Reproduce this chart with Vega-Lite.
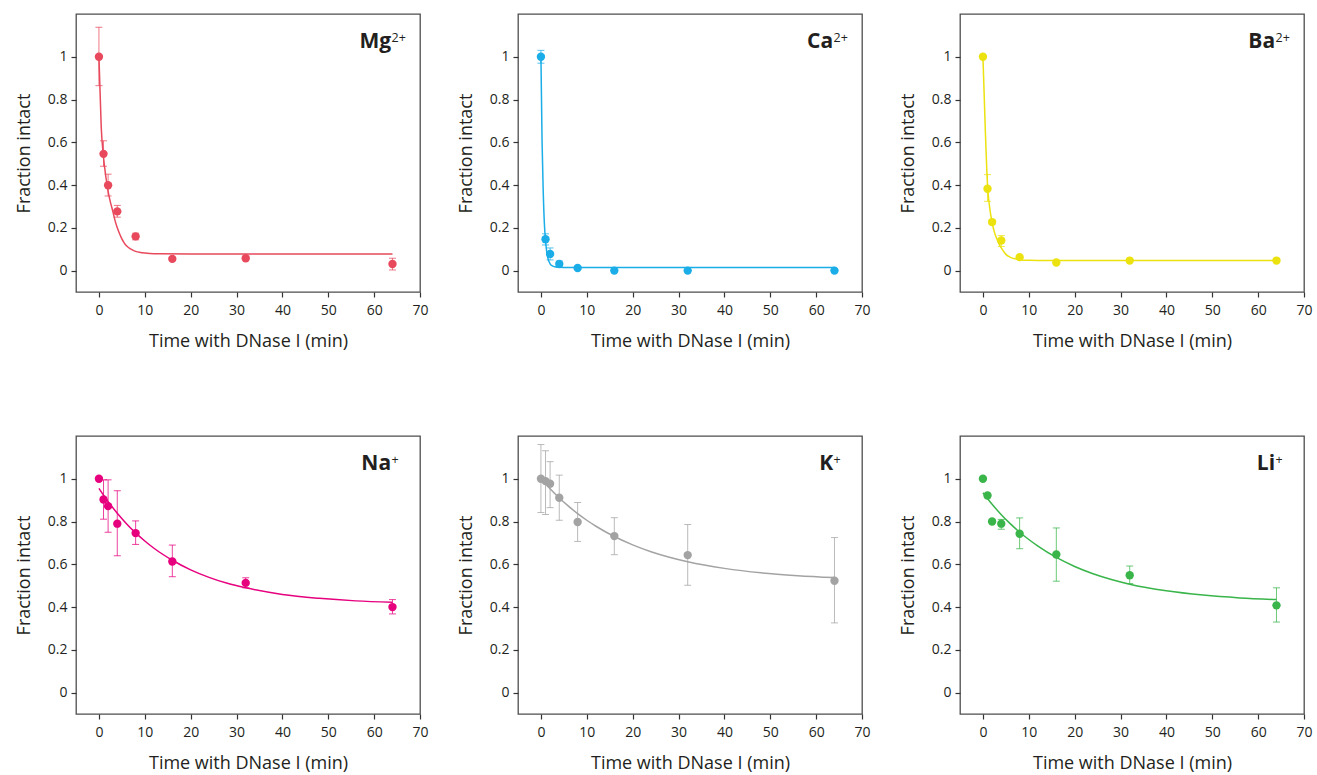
{
  "$schema": "https://vega.github.io/schema/vega-lite/v6.json",
  "padding": {"left": 14, "top": 13, "right": 5, "bottom": 2},
  "background": "white",
  "config": {
    "view": {"stroke": "#4d4d4d", "strokeWidth": 1.3},
    "header": {"labels": false, "labelFontSize": 0, "labelPadding": 0, "title": null, "titlePadding": 0},
    "headerFacet": {"labels": false, "labelFontSize": 0, "labelPadding": 0, "title": null, "titlePadding": 0},
    "axis": {"domain": false, "grid": false, "tickColor": "#333333", "tickSize": 5, "tickWidth": 1.2,
      "labelColor": "#231f20", "titleColor": "#231f20", "labelFont": "Open Sans", "titleFont": "Open Sans",
      "titleFontWeight": "normal", "labelFontSize": 14, "titleFontSize": 18},
    "text": {"font": "Open Sans"}
  },
  "data": {"values": [
    {"ion": "Mg", "kind": "label", "label": "Mg", "sup": "2+"},
    {"ion": "Ca", "kind": "label", "label": "Ca", "sup": "2+"},
    {"ion": "Ba", "kind": "label", "label": "Ba", "sup": "2+"},
    {"ion": "Na", "kind": "label", "label": "Na", "sup": "+"},
    {"ion": "K", "kind": "label", "label": "K", "sup": "+"},
    {"ion": "Li", "kind": "label", "label": "Li", "sup": "+"},

    {"ion": "Mg", "kind": "pt", "t": 0, "y": 1.0, "lo": 0.865, "hi": 1.138},
    {"ion": "Mg", "kind": "pt", "t": 1, "y": 0.546, "lo": 0.488, "hi": 0.607},
    {"ion": "Mg", "kind": "pt", "t": 2, "y": 0.399, "lo": 0.349, "hi": 0.451},
    {"ion": "Mg", "kind": "pt", "t": 4, "y": 0.277, "lo": 0.25, "hi": 0.305},
    {"ion": "Mg", "kind": "pt", "t": 8, "y": 0.16, "lo": 0.144, "hi": 0.175},
    {"ion": "Mg", "kind": "pt", "t": 16, "y": 0.055, "lo": 0.047, "hi": 0.063},
    {"ion": "Mg", "kind": "pt", "t": 32, "y": 0.058, "lo": 0.05, "hi": 0.066},
    {"ion": "Mg", "kind": "pt", "t": 64, "y": 0.031, "lo": 0.003, "hi": 0.058},

    {"ion": "Ca", "kind": "pt", "t": 0, "y": 1.0, "lo": 0.97, "hi": 1.03},
    {"ion": "Ca", "kind": "pt", "t": 1, "y": 0.147, "lo": 0.12, "hi": 0.172},
    {"ion": "Ca", "kind": "pt", "t": 2, "y": 0.078, "lo": 0.05, "hi": 0.106},
    {"ion": "Ca", "kind": "pt", "t": 4, "y": 0.031, "lo": 0.016, "hi": 0.045},
    {"ion": "Ca", "kind": "pt", "t": 8, "y": 0.0125, "lo": 0.006, "hi": 0.019},
    {"ion": "Ca", "kind": "pt", "t": 16, "y": 0.0, "lo": 0.0, "hi": 0.0},
    {"ion": "Ca", "kind": "pt", "t": 32, "y": 0.0, "lo": 0.0, "hi": 0.0},
    {"ion": "Ca", "kind": "pt", "t": 64, "y": 0.0, "lo": 0.0, "hi": 0.0},

    {"ion": "Ba", "kind": "pt", "t": 0, "y": 1.0, "lo": 1.0, "hi": 1.0},
    {"ion": "Ba", "kind": "pt", "t": 1, "y": 0.383, "lo": 0.324, "hi": 0.449},
    {"ion": "Ba", "kind": "pt", "t": 2, "y": 0.227, "lo": 0.217, "hi": 0.237},
    {"ion": "Ba", "kind": "pt", "t": 4, "y": 0.141, "lo": 0.113, "hi": 0.164},
    {"ion": "Ba", "kind": "pt", "t": 8, "y": 0.063, "lo": 0.058, "hi": 0.068},
    {"ion": "Ba", "kind": "pt", "t": 16, "y": 0.038, "lo": 0.035, "hi": 0.041},
    {"ion": "Ba", "kind": "pt", "t": 32, "y": 0.047, "lo": 0.044, "hi": 0.05},
    {"ion": "Ba", "kind": "pt", "t": 64, "y": 0.047, "lo": 0.044, "hi": 0.05},

    {"ion": "Na", "kind": "pt", "t": 0, "y": 1.0, "lo": 1.0, "hi": 1.0},
    {"ion": "Na", "kind": "pt", "t": 1, "y": 0.903, "lo": 0.811, "hi": 0.995},
    {"ion": "Na", "kind": "pt", "t": 2, "y": 0.872, "lo": 0.75, "hi": 0.995},
    {"ion": "Na", "kind": "pt", "t": 4, "y": 0.79, "lo": 0.64, "hi": 0.944},
    {"ion": "Na", "kind": "pt", "t": 8, "y": 0.746, "lo": 0.693, "hi": 0.803},
    {"ion": "Na", "kind": "pt", "t": 16, "y": 0.613, "lo": 0.542, "hi": 0.69},
    {"ion": "Na", "kind": "pt", "t": 32, "y": 0.513, "lo": 0.49, "hi": 0.537},
    {"ion": "Na", "kind": "pt", "t": 64, "y": 0.4, "lo": 0.368, "hi": 0.435},

    {"ion": "K", "kind": "pt", "t": 0, "y": 1.0, "lo": 0.842, "hi": 1.16},
    {"ion": "K", "kind": "pt", "t": 1, "y": 0.989, "lo": 0.833, "hi": 1.131},
    {"ion": "K", "kind": "pt", "t": 2, "y": 0.977, "lo": 0.865, "hi": 1.08},
    {"ion": "K", "kind": "pt", "t": 4, "y": 0.911, "lo": 0.806, "hi": 1.017},
    {"ion": "K", "kind": "pt", "t": 8, "y": 0.798, "lo": 0.707, "hi": 0.889},
    {"ion": "K", "kind": "pt", "t": 16, "y": 0.732, "lo": 0.645, "hi": 0.818},
    {"ion": "K", "kind": "pt", "t": 32, "y": 0.643, "lo": 0.502, "hi": 0.786},
    {"ion": "K", "kind": "pt", "t": 64, "y": 0.523, "lo": 0.326, "hi": 0.725},

    {"ion": "Li", "kind": "pt", "t": 0, "y": 1.0, "lo": 1.0, "hi": 1.0},
    {"ion": "Li", "kind": "pt", "t": 1, "y": 0.922, "lo": 0.916, "hi": 0.928},
    {"ion": "Li", "kind": "pt", "t": 2, "y": 0.8, "lo": 0.795, "hi": 0.805},
    {"ion": "Li", "kind": "pt", "t": 4, "y": 0.79, "lo": 0.764, "hi": 0.81},
    {"ion": "Li", "kind": "pt", "t": 8, "y": 0.743, "lo": 0.673, "hi": 0.817},
    {"ion": "Li", "kind": "pt", "t": 16, "y": 0.646, "lo": 0.521, "hi": 0.77},
    {"ion": "Li", "kind": "pt", "t": 32, "y": 0.549, "lo": 0.51, "hi": 0.592},
    {"ion": "Li", "kind": "pt", "t": 64, "y": 0.408, "lo": 0.33, "hi": 0.49},

    {"ion": "Mg", "kind": "fit", "t": 0, "y": 1.0},
    {"ion": "Mg", "kind": "fit", "t": 0.5, "y": 0.67},
    {"ion": "Mg", "kind": "fit", "t": 1, "y": 0.53},
    {"ion": "Mg", "kind": "fit", "t": 1.5, "y": 0.44},
    {"ion": "Mg", "kind": "fit", "t": 2, "y": 0.37},
    {"ion": "Mg", "kind": "fit", "t": 2.5, "y": 0.32},
    {"ion": "Mg", "kind": "fit", "t": 3, "y": 0.28},
    {"ion": "Mg", "kind": "fit", "t": 3.5, "y": 0.235},
    {"ion": "Mg", "kind": "fit", "t": 4, "y": 0.2},
    {"ion": "Mg", "kind": "fit", "t": 4.5, "y": 0.172},
    {"ion": "Mg", "kind": "fit", "t": 5, "y": 0.148},
    {"ion": "Mg", "kind": "fit", "t": 5.5, "y": 0.13},
    {"ion": "Mg", "kind": "fit", "t": 6, "y": 0.116},
    {"ion": "Mg", "kind": "fit", "t": 7, "y": 0.1},
    {"ion": "Mg", "kind": "fit", "t": 8, "y": 0.09},
    {"ion": "Mg", "kind": "fit", "t": 9, "y": 0.085},
    {"ion": "Mg", "kind": "fit", "t": 10, "y": 0.082},
    {"ion": "Mg", "kind": "fit", "t": 12, "y": 0.079},
    {"ion": "Mg", "kind": "fit", "t": 20, "y": 0.078},
    {"ion": "Mg", "kind": "fit", "t": 64, "y": 0.078},

    {"ion": "Ca", "kind": "fit", "t": 0, "y": 1.0},
    {"ion": "Ca", "kind": "fit", "t": 0.25, "y": 0.6},
    {"ion": "Ca", "kind": "fit", "t": 0.5, "y": 0.37},
    {"ion": "Ca", "kind": "fit", "t": 0.75, "y": 0.22},
    {"ion": "Ca", "kind": "fit", "t": 1, "y": 0.14},
    {"ion": "Ca", "kind": "fit", "t": 1.25, "y": 0.09},
    {"ion": "Ca", "kind": "fit", "t": 1.5, "y": 0.06},
    {"ion": "Ca", "kind": "fit", "t": 2, "y": 0.032},
    {"ion": "Ca", "kind": "fit", "t": 2.5, "y": 0.022},
    {"ion": "Ca", "kind": "fit", "t": 3, "y": 0.018},
    {"ion": "Ca", "kind": "fit", "t": 4, "y": 0.016},
    {"ion": "Ca", "kind": "fit", "t": 6, "y": 0.015},
    {"ion": "Ca", "kind": "fit", "t": 64, "y": 0.015},

    {"ion": "Ba", "kind": "fit", "t": 0, "y": 1.0},
    {"ion": "Ba", "kind": "fit", "t": 0.5, "y": 0.67},
    {"ion": "Ba", "kind": "fit", "t": 1, "y": 0.4},
    {"ion": "Ba", "kind": "fit", "t": 1.5, "y": 0.29},
    {"ion": "Ba", "kind": "fit", "t": 2, "y": 0.225},
    {"ion": "Ba", "kind": "fit", "t": 2.5, "y": 0.18},
    {"ion": "Ba", "kind": "fit", "t": 3, "y": 0.15},
    {"ion": "Ba", "kind": "fit", "t": 3.5, "y": 0.125},
    {"ion": "Ba", "kind": "fit", "t": 4, "y": 0.106},
    {"ion": "Ba", "kind": "fit", "t": 5, "y": 0.076},
    {"ion": "Ba", "kind": "fit", "t": 6, "y": 0.062},
    {"ion": "Ba", "kind": "fit", "t": 7, "y": 0.055},
    {"ion": "Ba", "kind": "fit", "t": 8, "y": 0.051},
    {"ion": "Ba", "kind": "fit", "t": 10, "y": 0.048},
    {"ion": "Ba", "kind": "fit", "t": 14, "y": 0.047},
    {"ion": "Ba", "kind": "fit", "t": 64, "y": 0.047},

    {"ion": "Na", "kind": "fit", "t": 0, "y": 0.955},
    {"ion": "Na", "kind": "fit", "t": 2, "y": 0.893},
    {"ion": "Na", "kind": "fit", "t": 4, "y": 0.839},
    {"ion": "Na", "kind": "fit", "t": 6, "y": 0.79},
    {"ion": "Na", "kind": "fit", "t": 8, "y": 0.747},
    {"ion": "Na", "kind": "fit", "t": 10, "y": 0.709},
    {"ion": "Na", "kind": "fit", "t": 12, "y": 0.675},
    {"ion": "Na", "kind": "fit", "t": 16, "y": 0.619},
    {"ion": "Na", "kind": "fit", "t": 20, "y": 0.574},
    {"ion": "Na", "kind": "fit", "t": 24, "y": 0.539},
    {"ion": "Na", "kind": "fit", "t": 28, "y": 0.511},
    {"ion": "Na", "kind": "fit", "t": 32, "y": 0.49},
    {"ion": "Na", "kind": "fit", "t": 40, "y": 0.459},
    {"ion": "Na", "kind": "fit", "t": 48, "y": 0.441},
    {"ion": "Na", "kind": "fit", "t": 56, "y": 0.429},
    {"ion": "Na", "kind": "fit", "t": 64, "y": 0.422},

    {"ion": "K", "kind": "fit", "t": 0, "y": 1.0},
    {"ion": "K", "kind": "fit", "t": 2, "y": 0.953},
    {"ion": "K", "kind": "fit", "t": 4, "y": 0.91},
    {"ion": "K", "kind": "fit", "t": 6, "y": 0.872},
    {"ion": "K", "kind": "fit", "t": 8, "y": 0.837},
    {"ion": "K", "kind": "fit", "t": 10, "y": 0.806},
    {"ion": "K", "kind": "fit", "t": 12, "y": 0.778},
    {"ion": "K", "kind": "fit", "t": 16, "y": 0.73},
    {"ion": "K", "kind": "fit", "t": 20, "y": 0.691},
    {"ion": "K", "kind": "fit", "t": 24, "y": 0.659},
    {"ion": "K", "kind": "fit", "t": 28, "y": 0.633},
    {"ion": "K", "kind": "fit", "t": 32, "y": 0.612},
    {"ion": "K", "kind": "fit", "t": 40, "y": 0.581},
    {"ion": "K", "kind": "fit", "t": 48, "y": 0.56},
    {"ion": "K", "kind": "fit", "t": 56, "y": 0.547},
    {"ion": "K", "kind": "fit", "t": 64, "y": 0.538},

    {"ion": "Li", "kind": "fit", "t": 0, "y": 0.935},
    {"ion": "Li", "kind": "fit", "t": 2, "y": 0.881},
    {"ion": "Li", "kind": "fit", "t": 4, "y": 0.832},
    {"ion": "Li", "kind": "fit", "t": 6, "y": 0.789},
    {"ion": "Li", "kind": "fit", "t": 8, "y": 0.75},
    {"ion": "Li", "kind": "fit", "t": 10, "y": 0.716},
    {"ion": "Li", "kind": "fit", "t": 12, "y": 0.685},
    {"ion": "Li", "kind": "fit", "t": 16, "y": 0.632},
    {"ion": "Li", "kind": "fit", "t": 20, "y": 0.59},
    {"ion": "Li", "kind": "fit", "t": 24, "y": 0.556},
    {"ion": "Li", "kind": "fit", "t": 28, "y": 0.529},
    {"ion": "Li", "kind": "fit", "t": 32, "y": 0.507},
    {"ion": "Li", "kind": "fit", "t": 40, "y": 0.476},
    {"ion": "Li", "kind": "fit", "t": 48, "y": 0.456},
    {"ion": "Li", "kind": "fit", "t": 56, "y": 0.443},
    {"ion": "Li", "kind": "fit", "t": 64, "y": 0.435}
  ]},
  "facet": {"field": "ion", "type": "nominal", "sort": ["Mg", "Ca", "Ba", "Na", "K", "Li"], "header": {"labels": false, "labelExpr": "''", "labelFontSize": 0, "labelPadding": 0, "title": null, "titlePadding": 0}, "title": null},
  "columns": 3,
  "spacing": {"row": 144, "column": 98},
  "bounds": "flush",
  "resolve": {"axis": {"x": "independent", "y": "independent"}},
  "spec": {
    "width": 344,
    "height": 278,
    "encoding": {
      "x": {"type": "quantitative", "scale": {"domain": [-5, 70], "nice": false, "zero": false},
        "axis": {"values": [0, 10, 20, 30, 40, 50, 60, 70], "title": "Time with DNase I (min)", "labelPadding": 6, "titlePadding": 15, "labelFlush": false}},
      "y": {"type": "quantitative", "scale": {"domain": [-0.1, 1.2], "nice": false, "zero": false},
        "axis": {"values": [0, 0.2, 0.4, 0.6, 0.8, 1], "format": "~g", "title": "Fraction intact", "labelPadding": 4, "titlePadding": 14}},
      "color": {"field": "ion", "type": "nominal", "legend": null,
        "scale": {"domain": ["Mg", "Ca", "Ba", "Na", "K", "Li"], "range": ["#e8495c", "#1aade8", "#ebe210", "#e6007e", "#a3a3a3", "#39b54a"]}}
    },
    "layer": [
      {
        "transform": [{"filter": "datum.kind == 'fit'"}],
        "mark": {"type": "line", "strokeWidth": 1.5, "interpolate": "monotone"},
        "encoding": {"x": {"field": "t"}, "y": {"field": "y"}, "order": {"field": "t", "type": "quantitative"}}
      },
      {
        "transform": [{"filter": "datum.kind == 'pt'"}],
        "mark": {"type": "rule", "strokeWidth": 1, "opacity": 0.75},
        "encoding": {"x": {"field": "t"}, "y": {"field": "lo"}, "y2": {"field": "hi"}}
      },
      {
        "transform": [{"filter": "datum.kind == 'pt'"}],
        "mark": {"type": "tick", "thickness": 1, "size": 7, "orient": "horizontal", "opacity": 0.75},
        "encoding": {"x": {"field": "t"}, "y": {"field": "lo"}}
      },
      {
        "transform": [{"filter": "datum.kind == 'pt'"}],
        "mark": {"type": "tick", "thickness": 1, "size": 7, "orient": "horizontal", "opacity": 0.75},
        "encoding": {"x": {"field": "t"}, "y": {"field": "hi"}}
      },
      {
        "transform": [{"filter": "datum.kind == 'pt'"}],
        "mark": {"type": "point", "filled": true, "opacity": 1, "size": 70},
        "encoding": {"x": {"field": "t"}, "y": {"field": "y"}}
      },
      {
        "transform": [{"filter": "datum.kind == 'label'"}],
        "mark": {"type": "text", "align": "right", "baseline": "alphabetic", "fontSize": 21, "fontWeight": "bold"},
        "encoding": {"x": {"datum": 63.7}, "y": {"datum": 1.04}, "text": {"field": "label"}, "color": {"value": "#231f20"}}
      },
      {
        "transform": [{"filter": "datum.kind == 'label'"}],
        "mark": {"type": "text", "align": "left", "baseline": "alphabetic", "fontSize": 12.5, "fontWeight": "normal", "dx": 0.5, "dy": -6.5},
        "encoding": {"x": {"datum": 63.7}, "y": {"datum": 1.04}, "text": {"field": "sup"}, "color": {"value": "#231f20"}}
      }
    ]
  }
}
